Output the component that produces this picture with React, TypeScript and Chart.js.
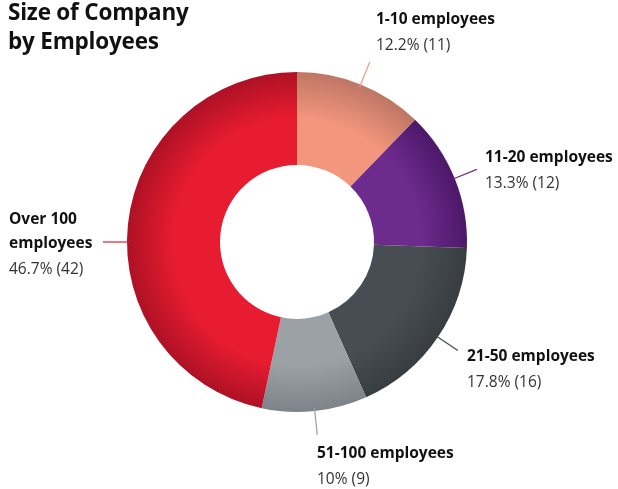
import React, { useEffect, useRef } from "react";
import { Chart, registerables } from "chart.js";

Chart.register(...registerables);

const categories = ["1-10 employees", "11-20 employees", "21-50 employees", "51-100 employees", "Over 100 employees"];
const counts = [11, 12, 16, 9, 42];
const lightColors = ["#F3967E", "#6E2B8E", "#484D53", "#9CA1A6", "#E81C30"];
const darkColors = ["#BE7664", "#4C1868", "#383D41", "#7D8388", "#AE1125"];
const lineColors = ["#F0927A", "#6B2A8C", "#454A50", "#9AA0A5", "#E31B2F"];

// label layout: text anchor (x, centre of first line) and leader angle override (deg, clockwise from top)
const labelLayout = [
  { x: 376, y: 20, angle: null as number | null, wrap: false },
  { x: 485, y: 158, angle: null, wrap: false },
  { x: 467, y: 357, angle: null, wrap: false },
  { x: 317, y: 454, angle: null, wrap: false },
  { x: 9, y: 220, angle: 270, wrap: true },
];

const total = counts.reduce((a, b) => a + b, 0);
const pctText = (v: number) => {
  const s = ((v / total) * 100).toFixed(1);
  return (s.endsWith(".0") ? s.slice(0, -2) : s) + "%";
};

const labelPlugin = {
  id: "outLabels",
  afterDatasetsDraw(chart: any) {
    const ctx = chart.ctx;
    const meta = chart.getDatasetMeta(0);
    meta.data.forEach((arc: any, i: number) => {
      const { x: cx, y: cy, startAngle, endAngle, outerRadius } = arc.getProps(
        ["x", "y", "startAngle", "endAngle", "outerRadius"],
        true
      );
      const lay = labelLayout[i];
      let a = (startAngle + endAngle) / 2;
      if (lay.angle !== null) a = (lay.angle * Math.PI) / 180 - Math.PI / 2;
      const r1 = outerRadius - 3;
      const r2 = outerRadius + 24;
      ctx.save();
      ctx.strokeStyle = lineColors[i];
      ctx.lineWidth = 1.2;
      ctx.beginPath();
      ctx.moveTo(cx + Math.cos(a) * r1, cy + Math.sin(a) * r1);
      ctx.lineTo(cx + Math.cos(a) * r2, cy + Math.sin(a) * r2);
      ctx.stroke();

      const name = categories[i];
      const lines: string[] = [];
      if (lay.wrap) {
        const idx = name.lastIndexOf(" ");
        lines.push(name.slice(0, idx), name.slice(idx + 1));
      } else lines.push(name);
      ctx.textAlign = "left";
      ctx.textBaseline = "middle";
      ctx.fillStyle = "#111111";
      ctx.font = "bold 15.5px 'Open Sans'";
      let y = lay.y;
      lines.forEach((l) => {
        ctx.fillText(l, lay.x, y);
        y += 24;
      });
      y += 2;
      ctx.fillStyle = "#333333";
      ctx.font = "15.5px 'Open Sans'";
      ctx.fillText(`${pctText(counts[i])} (${counts[i]})`, lay.x, y);
      ctx.restore();
    });
  },
};

export default function App() {
  const ref = useRef<HTMLCanvasElement>(null);
  useEffect(() => {
    if (!ref.current) return;
    const chart = new Chart(ref.current, {
      type: "doughnut",
      data: {
        labels: categories,
        datasets: [
          {
            data: counts,
            borderWidth: 0,
            backgroundColor: (c: any) => {
              const ch = c.chart;
              const area = ch.chartArea;
              const i = c.dataIndex;
              if (!area || i === undefined) return lightColors[i ?? 0];
              const cx = (area.left + area.right) / 2;
              const cy = (area.top + area.bottom) / 2;
              const r = Math.min(area.right - area.left, area.bottom - area.top) / 2;
              const g = ch.ctx.createRadialGradient(cx, cy, r * 0.45, cx, cy, r);
              g.addColorStop(0, lightColors[i]);
              g.addColorStop(0.5, lightColors[i]);
              g.addColorStop(1, darkColors[i]);
              return g;
            },
          },
        ],
      },
      options: {
        responsive: false,
        animation: false,
        cutout: "45.3%",
        layout: { padding: { left: 127, right: 151, top: 72, bottom: 77 } },
        plugins: { legend: { display: false }, tooltip: { enabled: false } },
      },
      plugins: [labelPlugin],
    });
    return () => chart.destroy();
  }, []);
  return (
    <div style={{ position: "fixed", left: 0, top: 0, width: 618, height: 489, background: "#fff" }}>
      <canvas ref={ref} width={618} height={489} style={{ position: "absolute", left: 0, top: 0 }} />
      <div
        style={{
          position: "absolute",
          left: 8,
          top: -3,
          fontFamily: "'Open Sans', sans-serif",
          fontWeight: 700,
          fontSize: 22.5,
          lineHeight: "29px",
          color: "#111",
          letterSpacing: -0.2,
        }}
      >
        Size of Company
        <br />
        by Employees
      </div>
    </div>
  );
}
